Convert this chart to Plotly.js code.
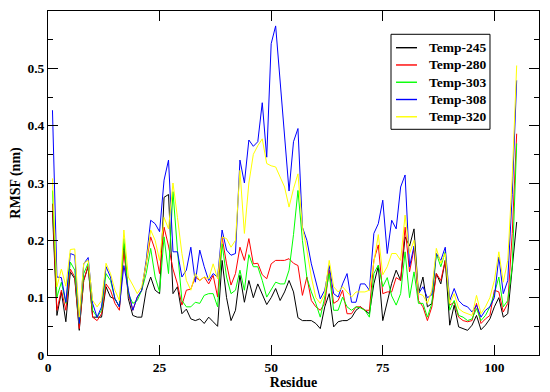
<!DOCTYPE html>
<html>
<head>
<meta charset="utf-8">
<script src="https://cdn.plot.ly/plotly-3.0.1.min.js"></script>
<style>
html,body{margin:0;padding:0;background:#fff}
#chart{width:550px;height:392px}
</style>
</head>
<body>
<div id="chart"></div>
<script>
const seriesNames = ["Temp-245", "Temp-280", "Temp-303", "Temp-308", "Temp-320"];
const seriesColors = ["#000000", "#ff0000", "#00ff00", "#0000ff", "#ffff00"];

const temp245 = [0.25,0.069,0.11,0.058,0.145,0.133,0.043,0.13,0.154,0.066,
0.066,0.066,0.119,0.101,0.098,0.084,0.194,0.098,0.069,0.066,
0.066,0.113,0.136,0.113,0.107,0.275,0.28,0.107,0.119,0.072,
0.08,0.063,0.06,0.063,0.055,0.066,0.058,0.05,0.165,0.10,
0.06,0.078,0.139,0.092,0.13,0.10,0.124,0.105,0.088,0.10,
0.116,0.095,0.11,0.13,0.11,0.065,0.06,0.06,0.06,0.055,
0.046,0.084,0.107,0.049,0.058,0.06,0.06,0.065,0.078,0.084,
0.078,0.072,0.124,0.155,0.06,0.09,0.125,0.148,0.13,0.206,
0.19,0.22,0.107,0.136,0.084,0.09,0.142,0.124,0.165,0.052,
0.087,0.049,0.046,0.043,0.052,0.069,0.044,0.052,0.063,0.084,
0.1,0.066,0.072,0.154,0.232];

const temp280 = [0.264,0.078,0.113,0.078,0.15,0.136,0.046,0.13,0.156,0.066,
0.06,0.072,0.124,0.113,0.09,0.078,0.183,0.107,0.078,0.101,
0.113,0.16,0.206,0.183,0.142,0.223,0.19,0.15,0.124,0.087,
0.113,0.115,0.136,0.13,0.136,0.124,0.139,0.101,0.206,0.159,
0.122,0.142,0.188,0.165,0.203,0.159,0.16,0.14,0.133,0.159,
0.165,0.165,0.165,0.168,0.16,0.156,0.104,0.136,0.095,0.084,
0.078,0.09,0.148,0.09,0.095,0.113,0.072,0.072,0.084,0.084,
0.078,0.078,0.165,0.192,0.107,0.11,0.11,0.135,0.13,0.223,
0.145,0.186,0.095,0.084,0.06,0.084,0.142,0.13,0.165,0.087,
0.092,0.066,0.06,0.058,0.06,0.09,0.055,0.063,0.069,0.113,
0.11,0.075,0.09,0.212,0.386];

const temp303 = [0.287,0.101,0.127,0.09,0.162,0.148,0.055,0.142,0.16,0.078,
0.066,0.078,0.142,0.13,0.098,0.084,0.203,0.107,0.09,0.095,
0.113,0.142,0.186,0.136,0.11,0.206,0.142,0.285,0.183,0.095,
0.084,0.084,0.092,0.09,0.104,0.107,0.107,0.084,0.194,0.136,
0.107,0.113,0.148,0.113,0.175,0.154,0.154,0.13,0.101,0.113,
0.127,0.124,0.124,0.148,0.21,0.287,0.2,0.135,0.11,0.09,
0.066,0.101,0.142,0.078,0.078,0.101,0.084,0.078,0.084,0.082,
0.078,0.066,0.142,0.157,0.119,0.135,0.103,0.087,0.107,0.18,
0.1,0.145,0.09,0.09,0.066,0.09,0.177,0.154,0.18,0.078,
0.095,0.069,0.066,0.06,0.063,0.081,0.06,0.069,0.084,0.107,
0.136,0.084,0.095,0.154,0.369];

const temp308 = [0.427,0.136,0.135,0.092,0.177,0.174,0.055,0.159,0.17,0.09,
0.066,0.084,0.154,0.136,0.098,0.084,0.156,0.113,0.078,0.101,
0.113,0.165,0.235,0.229,0.215,0.305,0.34,0.18,0.18,0.136,
0.148,0.188,0.127,0.183,0.154,0.13,0.142,0.136,0.218,0.183,
0.174,0.177,0.34,0.3,0.375,0.364,0.372,0.44,0.345,0.543,
0.574,0.48,0.38,0.286,0.372,0.395,0.223,0.2,0.159,0.13,
0.098,0.113,0.156,0.107,0.101,0.124,0.142,0.092,0.092,0.124,
0.124,0.113,0.212,0.229,0.27,0.177,0.235,0.22,0.293,0.314,
0.154,0.19,0.107,0.119,0.1,0.105,0.177,0.165,0.188,0.095,
0.116,0.095,0.087,0.084,0.075,0.087,0.066,0.078,0.084,0.1,
0.171,0.107,0.13,0.28,0.479];

const temp320 = [0.308,0.119,0.15,0.12,0.184,0.185,0.066,0.16,0.165,0.095,
0.084,0.095,0.16,0.142,0.113,0.095,0.218,0.136,0.122,0.107,
0.119,0.16,0.218,0.2,0.165,0.24,0.22,0.3,0.24,0.177,
0.13,0.113,0.142,0.13,0.136,0.133,0.159,0.133,0.206,0.203,
0.188,0.2,0.322,0.212,0.3,0.35,0.365,0.377,0.334,0.33,
0.328,0.31,0.293,0.258,0.29,0.316,0.223,0.183,0.136,0.1,
0.09,0.107,0.165,0.119,0.11,0.119,0.11,0.101,0.11,0.11,
0.11,0.113,0.165,0.21,0.14,0.154,0.177,0.177,0.165,0.244,
0.177,0.2,0.107,0.104,0.09,0.113,0.186,0.16,0.177,0.09,
0.107,0.081,0.075,0.072,0.069,0.104,0.072,0.084,0.1,0.13,
0.18,0.127,0.165,0.31,0.505];

const xTickVals = [0, 25, 50, 75, 100];
const yTickVals = [0, 0.1, 0.2, 0.3, 0.4, 0.5];
const yTickText = ["0", "0.1", "0.2", "0.3", "0.4", "0.5"];
const yMinorVals = [0.05, 0.15, 0.25, 0.35, 0.45, 0.55];

const allSeries = [temp245, temp280, temp303, temp308, temp320];
const residues = temp245.map((_, i) => i + 1);

const fontFam = "Liberation Serif";

const traces = allSeries.map((vals, k) => ({
  type: "scatter",
  mode: "lines",
  name: seriesNames[k],
  x: residues,
  y: vals,
  line: {color: seriesColors[k], width: 1}
}));

// Legend box (paper coordinates), built from the series names/colours
const legBox = {x0: 0.6986, x1: 0.9002, y0: 0.6561, y1: 0.9323};
const legTop = 0.8933, legStep = 0.0502;
const shapes = [{
  type: "rect", xref: "paper", yref: "paper",
  x0: legBox.x0, x1: legBox.x1, y0: legBox.y0, y1: legBox.y1,
  line: {color: "#000", width: 1}, fillcolor: "#fff", layer: "above"
}];
const annotations = [];
seriesNames.forEach((nm, k) => {
  const yy = legTop - k * legStep;
  shapes.push({
    type: "line", xref: "paper", yref: "paper",
    x0: 0.7088, x1: 0.7515, y0: yy, y1: yy,
    line: {color: seriesColors[k], width: 1.4}, layer: "above"
  });
  annotations.push({
    xref: "paper", yref: "paper", x: 0.7719, y: yy,
    xanchor: "left", yanchor: "middle", showarrow: false,
    text: nm, font: {family: fontFam, size: 13.5, color: "#000", weight: "bold"}
  });
});

const layout = {
  width: 550,
  height: 392,
  margin: {l: 48, r: 11, t: 11, b: 37},
  paper_bgcolor: "#ffffff",
  plot_bgcolor: "#ffffff",
  font: {family: fontFam, size: 13, color: "#000", weight: "bold"},
  showlegend: false,
  shapes: shapes,
  annotations: annotations,
  xaxis: {
    range: [0, 110],
    tickmode: "array",
    tickvals: xTickVals,
    ticks: "inside", ticklen: 10, tickwidth: 1, tickcolor: "#000",
    mirror: "ticks", showline: true, linecolor: "#000", linewidth: 1,
    showgrid: false, zeroline: false,
    tickfont: {family: fontFam, size: 13.5, color: "#000", weight: "bold"},
    title: {text: "Residue", font: {family: fontFam, size: 14, color: "#000", weight: "bold"}, standoff: 2}
  },
  yaxis: {
    range: [0, 0.6],
    tickmode: "array",
    tickvals: yTickVals,
    ticktext: yTickText,
    ticks: "inside", ticklen: 10, tickwidth: 1, tickcolor: "#000",
    minor: {tickmode: "array", tickvals: yMinorVals, ticks: "inside", ticklen: 5, tickcolor: "#000", tickwidth: 1, showgrid: false},
    mirror: "ticks", showline: true, linecolor: "#000", linewidth: 1,
    showgrid: false, zeroline: false,
    tickfont: {family: fontFam, size: 13.5, color: "#000", weight: "bold"},
    title: {text: "RMSF (nm)", font: {family: fontFam, size: 14, color: "#000", weight: "bold"}, standoff: 3}
  }
};

Plotly.newPlot("chart", traces, layout, {displayModeBar: false, staticPlot: true});
</script>
</body>
</html>
